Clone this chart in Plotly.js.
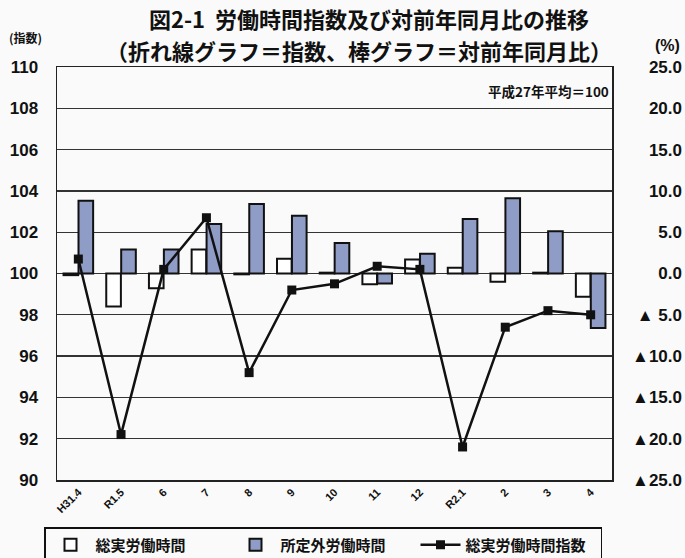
<!DOCTYPE html>
<html>
<head>
<meta charset="utf-8">
<script src="https://cdn.plot.ly/plotly-3.0.1.min.js"></script>
<style>
html,body{margin:0;padding:0;background:#fafafa;}
#chart{width:685px;height:558px;}
</style>
</head>
<body>
<div id="chart"></div>
<script>
const categories = ["H31.4","R1.5","6","7","8","9","10","11","12","R2.1","2","3","4"];
const totalHoursPct = [-0.2, -4.0, -1.8, 2.9, -0.1, 1.8, 0.1, -1.3, 1.7, 0.7, -1.0, 0.1, -2.8];
const overtimePct = [8.8, 2.9, 2.9, 6.0, 8.4, 7.0, 3.7, -1.2, 2.4, 6.6, 9.1, 5.1, -6.6];
const totalHoursIndex = [100.7, 92.2, 100.2, 102.7, 95.2, 99.2, 99.5, 100.35, 100.2, 91.6, 97.4, 98.2, 98.0];
const leftTicks = [90, 92, 94, 96, 98, 100, 102, 104, 106, 108, 110];
const rightTickVals = [-25, -20, -15, -10, -5, 0, 5, 10, 15, 20, 25];
const rightTickText = ["▲25.0","▲20.0","▲15.0","▲10.0","▲ 5.0","0.0","5.0","10.0","15.0","20.0","25.0"];

const numFont = "'Liberation Sans',Arial,sans-serif";
const jpFont = "'Noto Sans CJK JP','Noto Sans',sans-serif";

// layout geometry (pixels)
const W = 685, H = 558, L = 57, R = 0, T = 67, B = 78;
const PW = W - L - R, PH = H - T - B;
const px = v => (v - L) / PW;          // pixel x -> paper x
const py = v => (H - B - v) / PH;      // pixel y -> paper y

const traces = [
  {
    type: "bar", name: "総実労働時間", x: categories, y: totalHoursPct, yaxis: "y",
    marker: {color: "#ffffff", line: {color: "#111111", width: 2}},
    offsetgroup: "a"
  },
  {
    type: "bar", name: "所定外労働時間", x: categories, y: overtimePct, yaxis: "y",
    marker: {color: "#8f9cc6", line: {color: "#111111", width: 2}},
    offsetgroup: "b"
  },
  {
    type: "scatter", mode: "lines+markers", name: "総実労働時間指数", x: categories, y: totalHoursIndex,
    yaxis: "y2",
    line: {color: "#111111", width: 2.5},
    marker: {symbol: "square", size: 9, color: "#111111"}
  }
];

const layout = {
  width: W, height: H,
  paper_bgcolor: "#fafafa", plot_bgcolor: "#fafafa",
  margin: {l: L, r: R, t: T, b: B, autoexpand: false},
  title: {
    text: "図2-1  労働時間指数及び対前年同月比の推移",
    font: {family: jpFont, size: 22, color: "#111", weight: "bold"},
    x: px(369), xanchor: "center", xref: "paper",
    y: 1 - 20/H, yanchor: "middle", yref: "container"
  },
  barmode: "group", bargap: 0.3, bargroupgap: 0.02,
  showlegend: true,
  legend: {
    orientation: "h", x: px(44), xanchor: "left", y: py(527), yanchor: "top",
    bordercolor: "#111", borderwidth: 1.5, bgcolor: "#fafafa",
    font: {family: jpFont, size: 15, color: "#111", weight: "bold"},
    entrywidth: 130, itemwidth: 40, traceorder: "normal"
  },
  xaxis: {
    type: "category", range: [-0.5, 12.5], domain: [0, (612 - L) / PW],
    tickangle: -45, showgrid: false,
    tickfont: {family: numFont, size: 11, color: "#111", weight: "bold"},
    showline: true, linecolor: "#222", linewidth: 1.5, mirror: true,
    ticks: "", zeroline: false
  },
  yaxis: {
    range: [-25, 25], side: "left", anchor: "free", position: 1,
    tickvals: rightTickVals, ticktext: rightTickText,
    showgrid: true, gridcolor: "#333", gridwidth: 1.3, zeroline: false,
    tickfont: {family: numFont, size: 17, color: "#111", weight: "bold"},
    showline: false, ticks: "", ticklabelstandoff: 3
  },
  yaxis2: {
    range: [90, 110], overlaying: "y", side: "left", anchor: "x",
    tickvals: leftTicks, ticktext: leftTicks.map(String),
    showgrid: false, zeroline: false,
    showline: true, linecolor: "#222", linewidth: 1.5, mirror: true,
    tickfont: {family: numFont, size: 17, color: "#111", weight: "bold"},
    ticks: "", ticklabelstandoff: 14
  },
  annotations: [
    {text: "（折れ線グラフ＝指数、棒グラフ＝対前年同月比）", xref: "paper", yref: "paper",
     x: px(359), y: py(50), xanchor: "center", yanchor: "middle", showarrow: false,
     font: {family: jpFont, size: 22, color: "#111", weight: "bold"}},
    {text: "平成27年平均＝100", xref: "paper", yref: "paper", x: px(611), y: py(91),
     xanchor: "right", yanchor: "middle", showarrow: false,
     font: {family: jpFont, size: 13.5, color: "#111", weight: "bold"}},
    {text: "(指数)", xref: "paper", yref: "paper", x: px(7), y: py(38),
     xanchor: "left", yanchor: "middle", showarrow: false,
     font: {family: jpFont, size: 12, color: "#111", weight: "bold"}},
    {text: "(%)", xref: "paper", yref: "paper", x: px(682), y: py(45),
     xanchor: "right", yanchor: "middle", showarrow: false,
     font: {family: numFont, size: 16, color: "#111", weight: "bold"}}
  ]
};

Plotly.newPlot("chart", traces, layout, {displayModeBar: false, staticPlot: true});
</script>
</body>
</html>
